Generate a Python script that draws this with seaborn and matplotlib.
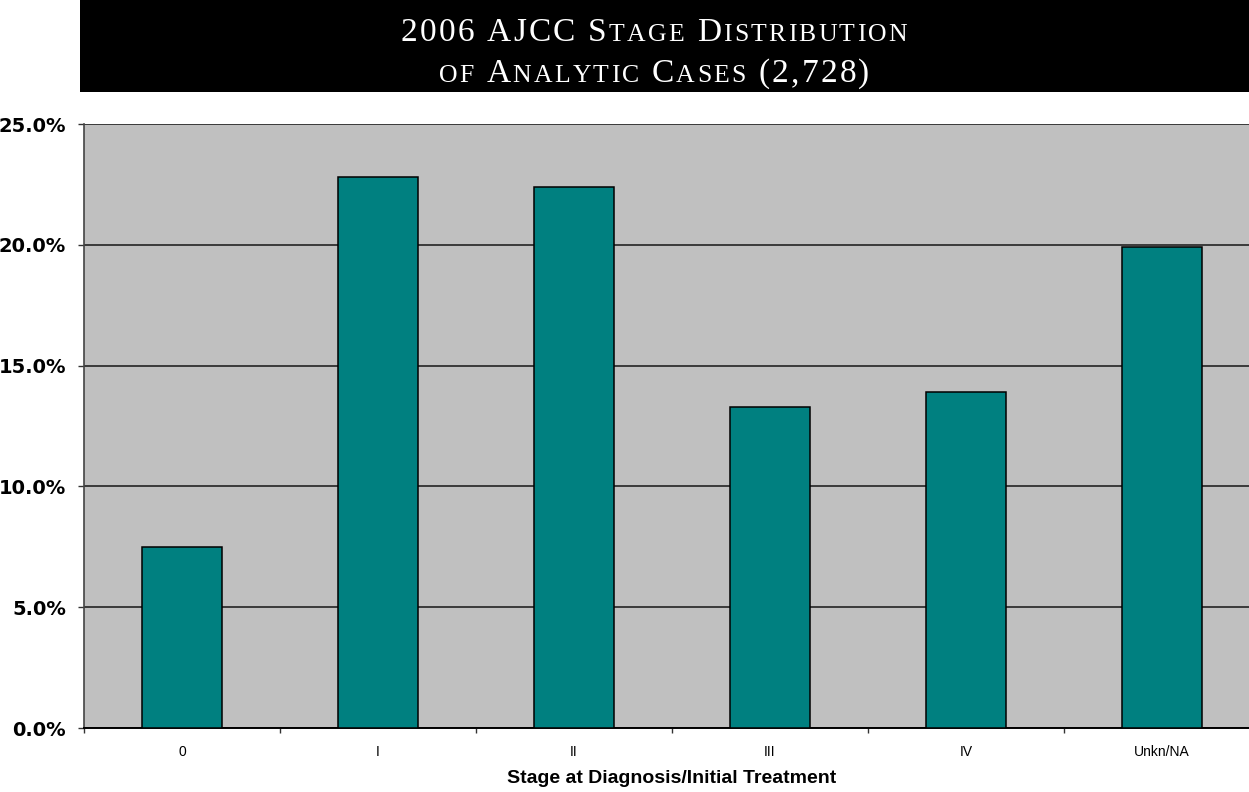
import matplotlib
matplotlib.use("Agg")
import matplotlib.pyplot as plt
from matplotlib.patches import Rectangle
from matplotlib.ticker import FixedLocator, FuncFormatter
import seaborn as sns
import pandas as pd

# Stage distribution of analytic cases, percent of total
stages = ["0", "I", "II", "III", "IV", "Unkn/NA"]
percents = [7.5, 22.8, 22.4, 13.3, 13.9, 19.9]
y_ticks = [0, 5, 10, 15, 20, 25]

title_lines = ["2006 AJCC Stage Distribution", "of Analytic Cases (2,728)"]
x_label = "Stage at Diagnosis/Initial Treatment"

sns.set_theme(style="white")
plt.rcParams["font.family"] = ["Liberation Sans", "DejaVu Sans"]

W, H, DPI = 1249, 792, 100
PT = 72 / DPI  # points per pixel
fig = plt.figure(figsize=(W / DPI, H / DPI), dpi=DPI)
fig.patch.set_facecolor("white")

# plot area runs a little past the right edge of the canvas
ax = fig.add_axes([84 / W, (H - 728) / H, (1260 - 84) / W, (728 - 124) / H])
ax.set_facecolor("#C0C0C0")

df = pd.DataFrame({"stage": stages, "pct": percents})
sns.barplot(data=df, x="stage", y="pct", color="#008080", saturation=1,
            edgecolor="black", linewidth=1.1, width=0.41, ax=ax, zorder=3)

ax.set_xlim(-0.5, len(stages) - 0.5)
ax.set_ylim(0, 25)
ax.yaxis.set_major_locator(FixedLocator(y_ticks))
ax.yaxis.set_major_formatter(FuncFormatter(lambda v, _: f"{v:.1f}%"))
ax.grid(axis="y", color="#3a3a3a", linewidth=1.4, zorder=1)
ax.set_axisbelow(True)

# category boundary ticks on the x axis, labels centred under bars
ax.set_xticks([i - 0.5 for i in range(len(stages) + 1)], minor=False)
ax.set_xticklabels([""] * (len(stages) + 1))
ax.set_xticks(range(len(stages)), minor=True)
ax.set_xticklabels(stages, minor=True)
ax.tick_params(axis="x", which="major", direction="out", length=5 * PT,
               width=1, color="#333333", bottom=True)
ax.tick_params(axis="x", which="minor", length=0, pad=12, labelsize=10,
               labelcolor="black")
ax.tick_params(axis="y", direction="out", length=6 * PT, width=1,
               color="#333333", left=True, pad=12 * PT, labelcolor="black")
for lbl in ax.get_yticklabels():
    lbl.set_fontweight("bold")
    lbl.set_fontsize(14)
    lbl.set_family(["DejaVu Sans"])

ax.set_xlabel(x_label, fontsize=14, fontweight="bold", labelpad=8,
              color="black")
ax.set_ylabel("")

for side in ["top", "right"]:
    ax.spines[side].set_visible(False)
ax.spines["left"].set_color("#444444")
ax.spines["left"].set_linewidth(1.2)
ax.spines["bottom"].set_color("black")
ax.spines["bottom"].set_linewidth(1.4)

# black title band
fig.patches.append(Rectangle((80 / W, 1 - 92 / H), 1 - 80 / W, 92 / H,
                             transform=fig.transFigure, facecolor="black",
                             edgecolor="none", zorder=0))


def small_caps(text, cx, y_base, big, small, family, tracking):
    """Draw text in letter-spaced small caps, centred on cx, one baseline."""
    renderer = fig.canvas.get_renderer()
    items = []
    total = 0
    for ch in text:
        size = small if ch.islower() else big
        t = fig.text(0, y_base, ch.upper(), fontsize=size, family=family,
                     color="white", va="baseline", ha="left")
        w = t.get_window_extent(renderer).width
        if ch == " ":
            w = size * 0.25 * DPI / 72
        items.append((t, w))
        total += w + tracking
    total -= tracking
    x = cx * W - total / 2
    for t, w in items:
        t.set_x(x / W)
        x += w + tracking


serif = ["Liberation Serif", "DejaVu Serif"]
small_caps(title_lines[0], 654 / W, 1 - 41 / H, 24, 18.5, serif, 2.2)
small_caps(title_lines[1], 654 / W, 1 - 82 / H, 24, 18.5, serif, 2.2)

fig.savefig("out.png", dpi=DPI, facecolor="white")
